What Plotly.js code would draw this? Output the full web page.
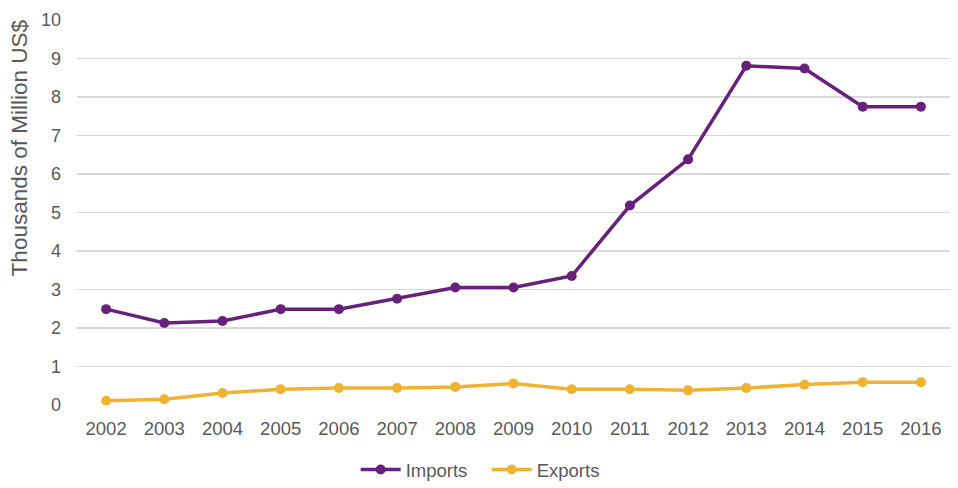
<!DOCTYPE html>
<html><head><meta charset="utf-8">
<script src="https://cdn.plot.ly/plotly-3.0.1.min.js"></script>
<style>html,body{margin:0;padding:0;background:#fff}#chart{width:958px;height:488px}</style>
</head><body><div id="chart"></div>
<script>
const years = ['2002','2003','2004','2005','2006','2007','2008','2009','2010','2011','2012','2013','2014','2015','2016'];
const imports = [2.49,2.13,2.18,2.49,2.49,2.76,3.05,3.05,3.35,5.18,6.38,8.81,8.74,7.75,7.75];
const exports_ = [0.11,0.15,0.31,0.41,0.44,0.44,0.47,0.56,0.41,0.41,0.38,0.44,0.53,0.59,0.59];
const yTicks = [0,1,2,3,4,5,6,7,8,9,10];
const yTitle = 'Thousands of Million US$';

const fam = '"Liberation Sans", Arial, sans-serif';
const font = {family:fam, color:'#595959', size:18};
const traces = [
  {x:years, y:imports, name:'Imports', type:'scatter', mode:'lines+markers',
   line:{color:'#68217a', width:3.5}, marker:{color:'#68217a', size:10}},
  {x:years, y:exports_, name:'Exports', type:'scatter', mode:'lines+markers',
   line:{color:'#f0b232', width:3.5}, marker:{color:'#f0b232', size:10}}
];
const layout = {
  width:958, height:488,
  margin:{l:77, r:8, t:20, b:83, autoexpand:false},
  paper_bgcolor:'#fff', plot_bgcolor:'#fff',
  font:font,
  showlegend:true,
  legend:{orientation:'h', x:0.508, xanchor:'center', xref:'container', y:0.037, yanchor:'middle', yref:'container',
    font:{family:fam, color:'#595959', size:18.5}, entrywidth:76, itemwidth:40},
  xaxis:{type:'category', range:[-0.5,14.5], showgrid:false, zeroline:false, showline:false,
    ticks:'', tickfont:{family:fam, color:'#595959', size:18.5}, ticklabelstandoff:10, automargin:false},
  yaxis:{range:[0,10], tickvals:yTicks, showgrid:true, gridcolor:'#d9d9d9', gridwidth:1.5,
    zeroline:false, showline:false, ticks:'', tickfont:font, ticklabelstandoff:15, automargin:false},
  annotations:[{text:yTitle, textangle:-90, xref:'paper', yref:'paper', x:-0.0665, y:0.669,
    xanchor:'center', yanchor:'middle', showarrow:false,
    font:{family:fam, color:'#595959', size:22.5}}]
};
Plotly.newPlot('chart', traces, layout, {displayModeBar:false, staticPlot:true});
</script></body></html>
